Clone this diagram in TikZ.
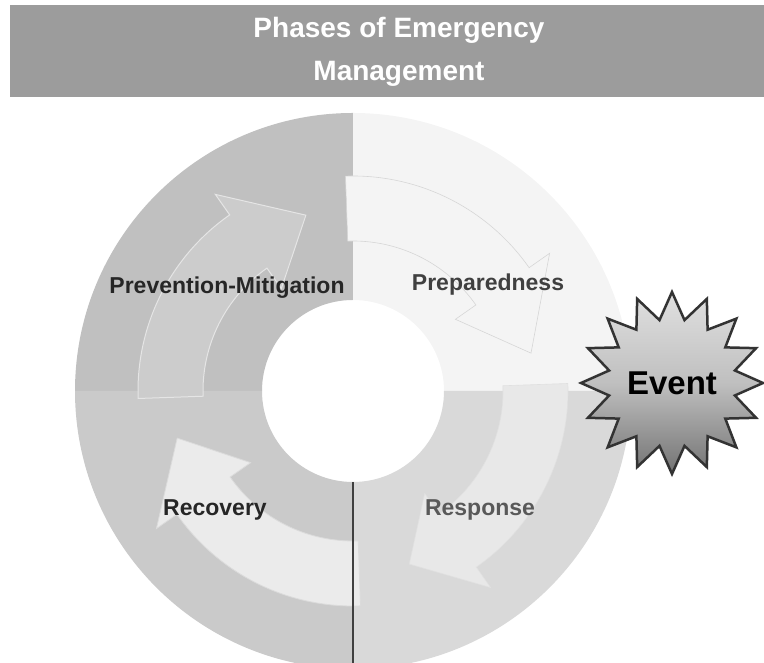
\documentclass[tikz,border=0pt]{standalone}
\usepackage{fontspec}
\setmainfont{Liberation Sans}
\usepackage{tikz}
\usetikzlibrary{shapes.geometric}

\definecolor{bandgray}{HTML}{9C9C9C}
\definecolor{prevgray}{HTML}{C0C0C0}
\definecolor{prepgray}{HTML}{F4F4F4}
\definecolor{recgray}{HTML}{CACACA}
\definecolor{respgray}{HTML}{D9D9D9}

% curved arrow inside one quadrant: start angle, end of body, tip angle, style
\newcommand{\phasearrow}[4]{%
  \filldraw[#4] ([shift={(#1:215)}]c) arc[start angle=#1, end angle=#2, radius=215]
    -- ([shift={(#2:240)}]c) -- ([shift={(#3:182)}]c) -- ([shift={(#2:125)}]c)
    -- ([shift={(#2:150)}]c) arc[start angle=#2, end angle=#1, radius=150] -- cycle;}

\begin{document}
\begin{tikzpicture}[x=1pt, y=1pt, every node/.style={inner sep=0pt}]
		\tikzstyle{title text}=[text=white, align=center, font=\bfseries\fontsize{28}{43}\selectfont]
		\tikzstyle{phase label}=[text=black!85, font=\bfseries\fontsize{23}{26}\selectfont]
		\tikzstyle{prev arrow}=[fill=black!20, draw=black!10, line width=1pt]
		\tikzstyle{prep arrow}=[fill=prepgray, draw=black!16, line width=0.6pt]
		\tikzstyle{resp arrow}=[fill=black!9, draw=black!12, line width=0.6pt]
		\tikzstyle{rec arrow}=[fill=black!8, draw=black!14, line width=0.8pt]
		\tikzstyle{divider}=[draw=black!75, line width=1.6pt]
		\tikzstyle{event burst}=[star, star points=16, star point ratio=1.42, minimum size=182pt,
		  draw=black!80, line width=2.5pt, top color=black!12, bottom color=black!55, middle color=black!25,
		  font=\bfseries\fontsize{33}{36}\selectfont]
		
		\useasboundingbox (0,0) rectangle (764,663);
		\clip (0,0) rectangle (764,663);
		
		\coordinate (c) at (353,272);
		
		% title band
		\fill[bandgray] (10,566) rectangle (764,658);
		\node[title text] (title) at (399,611) {Phases of Emergency\\Management};
		
		% ring quadrants
		\foreach \a/\col in {90/prevgray, 0/prepgray, -90/respgray, 180/recgray}
		  \fill[\col] ([shift={(\a:91)}]c) -- ([shift={(\a:278)}]c)
		    arc[start angle=\a, delta angle=90, radius=278]
		    -- ([shift={(\a+90:91)}]c) arc[start angle=\a+90, delta angle=-90, radius=91] -- cycle;
		
		\phasearrow{182}{125}{105}{prev arrow}
		\phasearrow{92}{35}{12}{prep arrow}
		\phasearrow{2}{-55}{-72}{resp arrow}
		\phasearrow{-88}{-145}{-165}{rec arrow}
		
		\coordinate (divtop) at (353,181);
		\coordinate (divbot) at (353,0);
		\draw[divider] (divtop) -- (divbot);
		
		\node[phase label]                  (prev) at (227,375) {Prevention-Mitigation};
		\node[phase label, text=black!75]   (prep) at (488,378) {Preparedness};
		\node[phase label]                  (rec)  at (215,153) {Recovery};
		\node[phase label, text=black!65]   (resp) at (480,153) {Response};
		
		\node[event burst] (event) at (672,280) {Event};
\end{tikzpicture}
\end{document}
